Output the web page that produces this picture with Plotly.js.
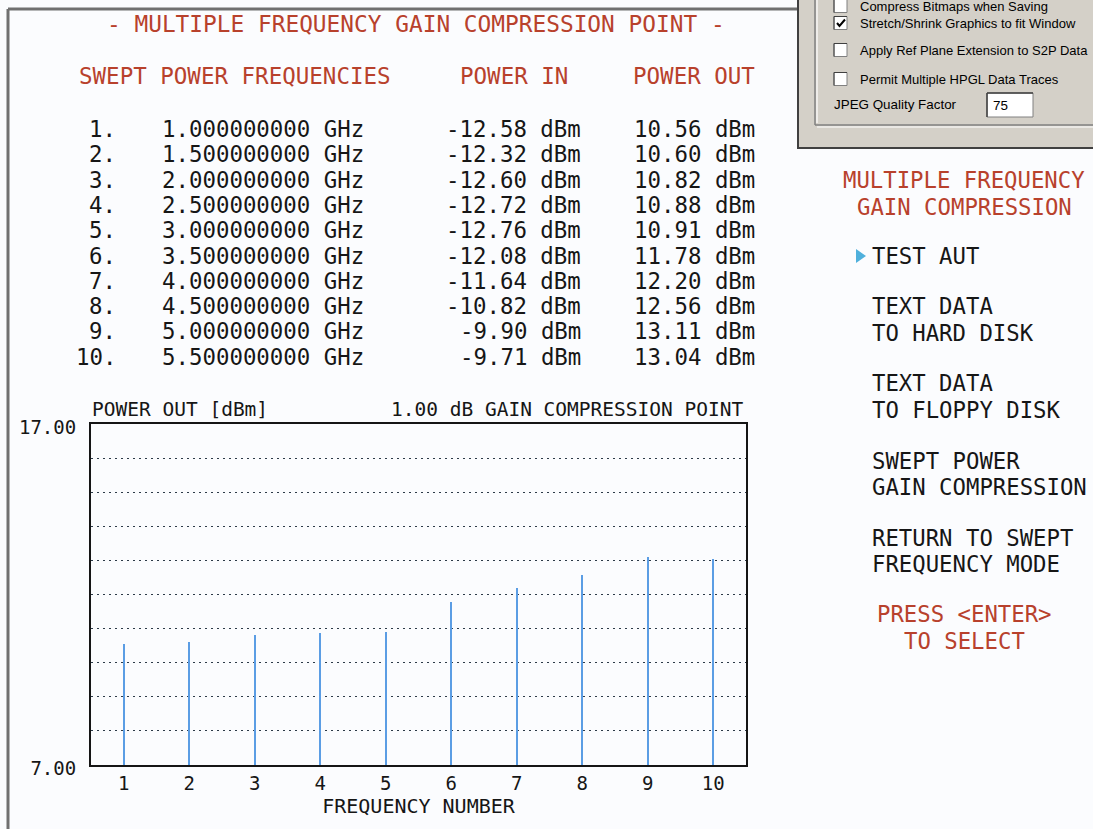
<!DOCTYPE html>
<html><head><meta charset="utf-8">
<script src="https://cdn.plot.ly/plotly-3.0.1.min.js"></script>
<style>html,body{margin:0;padding:0;background:#fbfcfe;overflow:hidden}#chart{width:1093px;height:829px;}</style>
</head><body><div id="chart"></div>
<script>
// ---- data ----
const frequencyNumbers = [1, 2, 3, 4, 5, 6, 7, 8, 9, 10];
const frequenciesGHz = [1.0, 1.5, 2.0, 2.5, 3.0, 3.5, 4.0, 4.5, 5.0, 5.5];
const powerInDbm = [-12.58, -12.32, -12.60, -12.72, -12.76, -12.08, -11.64, -10.82, -9.90, -9.71];
const powerOutDbm = [10.56, 10.60, 10.82, 10.88, 10.91, 11.78, 12.20, 12.56, 13.11, 13.04];
const yTickVals = [7, 17];
const compressionDb = 1.00;
const menuTitle = ["MULTIPLE FREQUENCY", "GAIN COMPRESSION"];
const menuItems = [["TEST AUT"], ["TEXT DATA", "TO HARD DISK"], ["TEXT DATA", "TO FLOPPY DISK"],
                   ["SWEPT POWER", "GAIN COMPRESSION"], ["RETURN TO SWEPT", "FREQUENCY MODE"]];
const menuFooter = ["PRESS <ENTER>", "TO SELECT"];
const dialogOptions = ["Compress Bitmaps when Saving", "Stretch/Shrink Graphics to fit Window",
                       "Apply Ref Plane Extension to S2P Data", "Permit Multiple HPGL Data Traces"];
const dialogChecked = [false, true, false, false];
const jpegQuality = "75";

// ---- layout helpers (pixel -> paper) ----
const W = 1093, H = 829, L = 91, R = 746, T = 424, B = 765;
const X = px => (px - L) / (R - L);
const Y = py => (B - py) / (B - T);
const MONO = "DejaVu Sans Mono";
const RED = "#b8412c", INK = "#161616";
const annotations = [];
function txt(text, x, y, xanchor, size, color, family) {
  annotations.push({text: text, xref: "paper", yref: "paper", x: X(x), y: Y(y),
    xanchor: xanchor, yanchor: "middle", showarrow: false,
    font: {family: family || MONO, size: size, color: color || INK}});
}
const shapes = [];
function rect(x0, y0, x1, y1, fill, lineColor, lw) {
  shapes.push({type: "rect", xref: "paper", yref: "paper", x0: X(x0), x1: X(x1), y0: Y(y0), y1: Y(y1),
    fillcolor: fill || "rgba(0,0,0,0)", line: {color: lineColor || "rgba(0,0,0,0)", width: lw || 0}, layer: "below"});
}
function line(x0, y0, x1, y1, color, lw) {
  shapes.push({type: "line", xref: "paper", yref: "paper", x0: X(x0), x1: X(x1), y0: Y(y0), y1: Y(y1),
    line: {color: color, width: lw}, layer: "below"});
}

// ---- main panel border ----
line(8, 9, 8, 835, "#707070", 3);
line(8, 9, 798, 9, "#707070", 3);

// ---- header texts ----
txt("- MULTIPLE FREQUENCY GAIN COMPRESSION POINT -", 416, 24, "center", 22.8, RED);
txt("SWEPT POWER FREQUENCIES", 77, 76, "left", 22.5, RED);
txt("POWER IN", 458, 76, "left", 22.5, RED);
txt("POWER OUT", 757, 76, "right", 22.5, RED);

// ---- table ----
frequencyNumbers.forEach((n, i) => {
  const y = 129 + i * 25.3;
  txt(n + ".", 118, y, "right", 22.4, INK);
  txt(frequenciesGHz[i].toFixed(9) + " GHz", 160, y, "left", 22.4, INK);
  txt(powerInDbm[i].toFixed(2) + " dBm", 583, y, "right", 22.4, INK);
  txt(powerOutDbm[i].toFixed(2) + " dBm", 757, y, "right", 22.4, INK);
});

// ---- chart labels ----
txt("POWER OUT [dBm]", 90, 409, "left", 19.5, INK);
txt(compressionDb.toFixed(2) + " dB GAIN COMPRESSION POINT", 745, 409, "right", 19.5, INK);

// ---- right menu ----
txt(menuTitle[0], 964, 180, "center", 22.3, RED);
txt(menuTitle[1], 964, 207, "center", 22.3, RED);
const itemY = [[256], [306, 333], [383, 410], [461, 487], [538, 564]];
menuItems.forEach((lines, i) => lines.forEach((s, j) => txt(s, 870, itemY[i][j], "left", 22.3, INK)));
shapes.push({type: "path", xref: "paper", yref: "paper",
  path: `M ${X(856)} ${Y(249)} L ${X(866)} ${Y(256)} L ${X(856)} ${Y(263)} Z`,
  fillcolor: "#4fb0dc", line: {width: 0}, layer: "above"});
txt(menuFooter[0], 964, 614, "center", 22.3, RED);
txt(menuFooter[1], 964, 641, "center", 22.3, RED);

// ---- dialog fragment (top right) ----
rect(797, -10, 1100, 148, "#d4d0c8", "rgba(0,0,0,0)", 0);
line(798, -10, 798, 148, "#404040", 2);
line(797, 148, 1100, 148, "#404040", 2);
line(815, -10, 815, 125, "#808080", 1.5);
line(817, -10, 817, 123, "#ffffff", 1.2);
line(815, 125, 1100, 125, "#808080", 1.5);
line(817, 127, 1100, 127, "#ffffff", 1.2);
const optY = [6, 23, 50, 79];
dialogOptions.forEach((s, i) => {
  const y = optY[i];
  rect(834, y - 6.5, 847, y + 6.5, "#ffffff", "#808080", 1);
  line(834, y - 6.5, 847, y - 6.5, "#404040", 1);
  line(834, y - 6.5, 834, y + 6.5, "#404040", 1);
  if (dialogChecked[i]) {
    shapes.push({type: "path", xref: "paper", yref: "paper",
      path: `M ${X(837)} ${Y(y)} L ${X(839.5)} ${Y(y + 3)} L ${X(845)} ${Y(y - 3.5)}`,
      line: {color: "#000", width: 2}, layer: "above"});
  }
  txt(s, 858, y, "left", 13, "#000", "Liberation Sans");
});
txt("JPEG Quality Factor", 832, 104, "left", 13.4, "#000", "Liberation Sans");
rect(987, 93, 1033, 117, "#ffffff", "#808080", 1);
line(987, 93, 1033, 93, "#404040", 1.5);
line(987, 93, 987, 117, "#404040", 1.5);
txt(jpegQuality, 991, 105, "left", 13.4, "#000", "Liberation Sans");

// ---- trace ----
const traces = [{
  type: "bar", x: frequencyNumbers, y: powerOutDbm, width: 0.032,
  marker: {color: "#5b9de4", line: {width: 0}},
  hovertemplate: "Frequency %{x}<br>Power out %{y:.2f} dBm<extra></extra>"
}];

const axisFont = {family: MONO, size: 19, color: INK};
const layout = {
  width: W, height: H, autosize: false,
  margin: {l: L, r: W - R, t: T, b: H - B, pad: 0},
  paper_bgcolor: "#fbfcfe", plot_bgcolor: "#fbfcfe",
  showlegend: false, bargap: 0,
  xaxis: {range: [0.5, 10.5], tickmode: "array", tickvals: frequencyNumbers,
    ticks: "", showgrid: false, zeroline: false, showline: true, mirror: true,
    linecolor: "#151515", linewidth: 2, tickfont: axisFont, ticklabelstandoff: 0,
    title: {text: "FREQUENCY NUMBER", font: {family: MONO, size: 20, color: INK}, standoff: 1}},
  yaxis: {range: [7, 17], tickmode: "array", tickvals: yTickVals,
    ticktext: yTickVals.map(v => v.toFixed(2)),
    ticks: "", showgrid: false, zeroline: false, showline: true, mirror: true,
    linecolor: "#151515", linewidth: 2, tickfont: axisFont, ticklabelstandoff: 9,
    ticklabelshift: 3,
    minor: {tickmode: "linear", tick0: 7, dtick: 1, showgrid: true,
      gridcolor: "#2c3a48", gridwidth: 1, griddash: "2px,4px", ticks: ""}},
  annotations: annotations, shapes: shapes
};
Plotly.newPlot("chart", traces, layout, {displayModeBar: false, staticPlot: false});
</script></body></html>
